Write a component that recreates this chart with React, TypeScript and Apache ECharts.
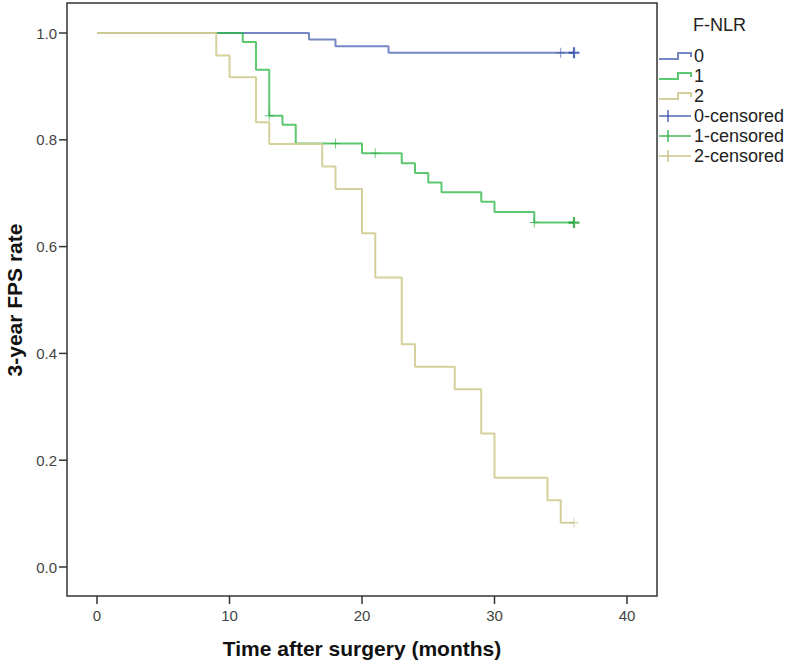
import React, { useEffect, useRef } from "react";
import * as echarts from "echarts";

// ---- data ----
const xTicks = [0, 10, 20, 30, 40];
const yTicks = [0, 0.2, 0.4, 0.6, 0.8, 1.0];
const legendTitle = "F-NLR";
const groupNames = ["0", "1", "2"];
const censorNames = ["0-censored", "1-censored", "2-censored"];
const xTitle = "Time after surgery (months)";
const yTitle = "3-year FPS rate";

// group 0
const g0Times = [0, 16, 18, 22, 36];
const g0Surv = [1.0, 0.988, 0.975, 0.963, 0.963];
const g0CensorTimes = [35];
const g0CensorSurv = [0.963];
const g0MultiCensorTimes = [36];
const g0MultiCensorSurv = [0.963];

// group 1
const g1Times = [0, 11, 12, 13, 14, 15, 20, 23, 24, 25, 26, 29, 30, 33, 36];
const g1Surv = [1.0, 0.983, 0.931, 0.845, 0.828, 0.793, 0.775, 0.756, 0.738, 0.72, 0.702, 0.684, 0.665, 0.645, 0.645];
const g1CensorTimes = [13, 18, 21, 33];
const g1CensorSurv = [0.845, 0.793, 0.775, 0.645];
const g1MultiCensorTimes = [36];
const g1MultiCensorSurv = [0.645];

// group 2
const g2Times = [0, 9, 10, 12, 13, 17, 18, 20, 21, 23, 24, 27, 29, 30, 34, 35, 36];
const g2Surv = [1.0, 0.958, 0.917, 0.833, 0.792, 0.75, 0.708, 0.625, 0.542, 0.417, 0.375, 0.333, 0.25, 0.167, 0.125, 0.083, 0.083];
const g2CensorTimes = [36];
const g2CensorSurv = [0.083];
const g2MultiCensorTimes: number[] = [];
const g2MultiCensorSurv: number[] = [];

// axis extents (plot frame extends beyond the tick range)
const xMin = -2.264;
const xMax = 42.264;
const yMin = -0.0543;
const yMax = 1.0562;

const lineColors = ["rgba(62,88,172,0.72)", "rgba(46,184,72,0.78)", "rgba(211,206,151,0.95)"];
const markColors = ["rgba(50,75,170,0.85)", "rgba(40,170,60,0.85)", "rgba(200,194,135,0.95)"];
const boldMarkColors = ["#2a44a8", "#1f9e34", "#c4bd82"];

const FONT = 'Arial, "Liberation Sans", sans-serif';

const thinCross = "path://M0,9 L20,9 L20,11 L0,11 Z M9,0 L11,0 L11,20 L9,20 Z";
const boldCross = "path://M0,8 L20,8 L20,12 L0,12 Z M8,0 L12,0 L12,20 L8,20 Z";

const GRID = { left: 67, right: 130, top: 3, bottom: 70 };
const W = 787;
const H = 666;

const zip = (a: number[], b: number[]) => a.map((v, i) => [v, b[i]]);

export default function App() {
  const ref = useRef<HTMLDivElement>(null);
  useEffect(() => {
    if (!ref.current) return;
    const chart = echarts.init(ref.current, undefined, { renderer: "svg" });

    const groups = [
      { t: g0Times, s: g0Surv, ct: g0CensorTimes, cs: g0CensorSurv, mt: g0MultiCensorTimes, ms: g0MultiCensorSurv },
      { t: g1Times, s: g1Surv, ct: g1CensorTimes, cs: g1CensorSurv, mt: g1MultiCensorTimes, ms: g1MultiCensorSurv },
      { t: g2Times, s: g2Surv, ct: g2CensorTimes, cs: g2CensorSurv, mt: g2MultiCensorTimes, ms: g2MultiCensorSurv },
    ];
    const drawOrder = [2, 0, 1];
    const series: any[] = [];
    drawOrder.forEach((gi) => {
      const g = groups[gi];
      series.push({
        type: "line",
        name: groupNames[gi],
        step: "end",
        data: zip(g.t, g.s),
        showSymbol: false,
        symbol: "none",
        lineStyle: { color: lineColors[gi], width: 2 },
        z: 2 + gi,
      });
    });
    groups.forEach((g, gi) => {
      series.push({
        type: "scatter",
        name: censorNames[gi],
        data: zip(g.ct, g.cs),
        symbol: thinCross,
        symbolSize: [9, 10],
        itemStyle: { color: markColors[gi] },
        z: 6,
      });
      series.push({
        type: "scatter",
        name: censorNames[gi] + "-multi",
        data: zip(g.mt, g.ms),
        symbol: boldCross,
        symbolSize: [11, 11],
        itemStyle: { color: boldMarkColors[gi] },
        z: 7,
      });
    });

    // legend built from graphic elements
    const legendX = 659;
    const textX = 694;
    const rowY = (i: number) => 56 + 20 * i;
    const legendEls: any[] = [
      {
        type: "text",
        left: 693,
        top: 16,
        style: { text: legendTitle, font: `18px ${FONT}`, fill: "#222" },
      },
    ];
    groupNames.forEach((name, i) => {
      const c = rowY(i);
      legendEls.push({
        type: "polyline",
        shape: {
          points: [
            [legendX, c + 3],
            [legendX + 19, c + 3],
            [legendX + 19, c - 3],
            [legendX + 32, c - 3],
            [legendX + 32, c + 1],
          ],
        },
        style: { stroke: lineColors[i], lineWidth: 2, fill: "none" },
      });
      legendEls.push({
        type: "text",
        x: textX,
        y: c,
        style: { text: name, font: `18px ${FONT}`, fill: "#222", textVerticalAlign: "middle" },
      });
    });
    censorNames.forEach((name, i) => {
      const c = rowY(i + 3);
      legendEls.push({
        type: "line",
        shape: { x1: legendX, y1: c, x2: legendX + 32, y2: c },
        style: { stroke: markColors[i], lineWidth: 1.5 },
      });
      legendEls.push({
        type: "line",
        shape: { x1: legendX + 9, y1: c - 6, x2: legendX + 9, y2: c + 6 },
        style: { stroke: markColors[i], lineWidth: 1.5 },
      });
      legendEls.push({
        type: "text",
        x: textX,
        y: c,
        style: { text: name, font: `18px ${FONT}`, fill: "#222", textVerticalAlign: "middle" },
      });
    });

    // tick marks: pixel positions from the axis scales (with a linear fallback)
    const toPx = (x: number, y: number): number[] => {
      let p: any = null;
      try {
        p = chart.convertToPixel({ xAxisIndex: 0, yAxisIndex: 0 } as any, [x, y]);
      } catch (e) {
        p = null;
      }
      if (!p || !isFinite(p[0]) || !isFinite(p[1])) {
        const pw = W - GRID.left - GRID.right;
        const ph = H - GRID.top - GRID.bottom;
        p = [
          GRID.left + ((x - xMin) / (xMax - xMin)) * pw,
          GRID.top + ((yMax - y) / (yMax - yMin)) * ph,
        ];
      }
      return p;
    };

    const baseOption: any = {
      animation: false,
      backgroundColor: "#ffffff",
      grid: {
        ...GRID,
        containLabel: false,
        show: true,
        borderColor: "#333",
        borderWidth: 1.5,
        backgroundColor: "transparent",
      },
      xAxis: {
        type: "value",
        min: xMin,
        max: xMax,
        position: "bottom",
        axisLine: { show: false, onZero: false },
        axisTick: { show: false },
        axisLabel: {
          color: "#444",
          fontSize: 15,
          fontFamily: FONT,
          margin: 12,
          customValues: xTicks,
          formatter: (v: number) => String(Math.round(v)),
        },
        splitLine: { show: false },
      },
      yAxis: {
        type: "value",
        min: yMin,
        max: yMax,
        position: "left",
        axisLine: { show: false, onZero: false },
        axisTick: { show: false },
        axisLabel: {
          color: "#444",
          fontSize: 15,
          fontFamily: FONT,
          margin: 10,
          customValues: yTicks,
          formatter: (v: number) => v.toFixed(1),
        },
        splitLine: { show: false },
      },
      series,
    };
    chart.setOption(baseOption);

    const tickEls: any[] = [];
    xTicks.forEach((v) => {
      const p = toPx(v, yMin);
      tickEls.push({
        type: "line",
        silent: true,
        shape: { x1: p[0], y1: p[1], x2: p[0], y2: p[1] + 8 },
        style: { stroke: "#333", lineWidth: 1.5 },
        z: 100,
      });
    });
    yTicks.forEach((v) => {
      const p = toPx(xMin, v);
      tickEls.push({
        type: "line",
        silent: true,
        shape: { x1: p[0] - 8, y1: p[1], x2: p[0], y2: p[1] },
        style: { stroke: "#333", lineWidth: 1.5 },
        z: 100,
      });
    });

    const graphics: any[] = [
      {
        type: "text",
        x: 362,
        y: 648,
        style: {
          text: xTitle,
          font: `bold 21px ${FONT}`,
          fill: "#111",
          textAlign: "center",
          textVerticalAlign: "middle",
        },
      },
      {
        type: "text",
        x: 14,
        y: 300,
        rotation: Math.PI / 2,
        style: {
          text: yTitle,
          font: `bold 21px ${FONT}`,
          fill: "#111",
          textAlign: "center",
          textVerticalAlign: "middle",
        },
      },
      ...legendEls,
      ...tickEls,
    ];
    chart.setOption({ ...baseOption, graphic: graphics }, { notMerge: true });

    return () => chart.dispose();
  }, []);
  return (
    <div
      ref={ref}
      style={{ position: "absolute", left: 0, top: 0, width: W, height: H, background: "#fff" }}
    />
  );
}
